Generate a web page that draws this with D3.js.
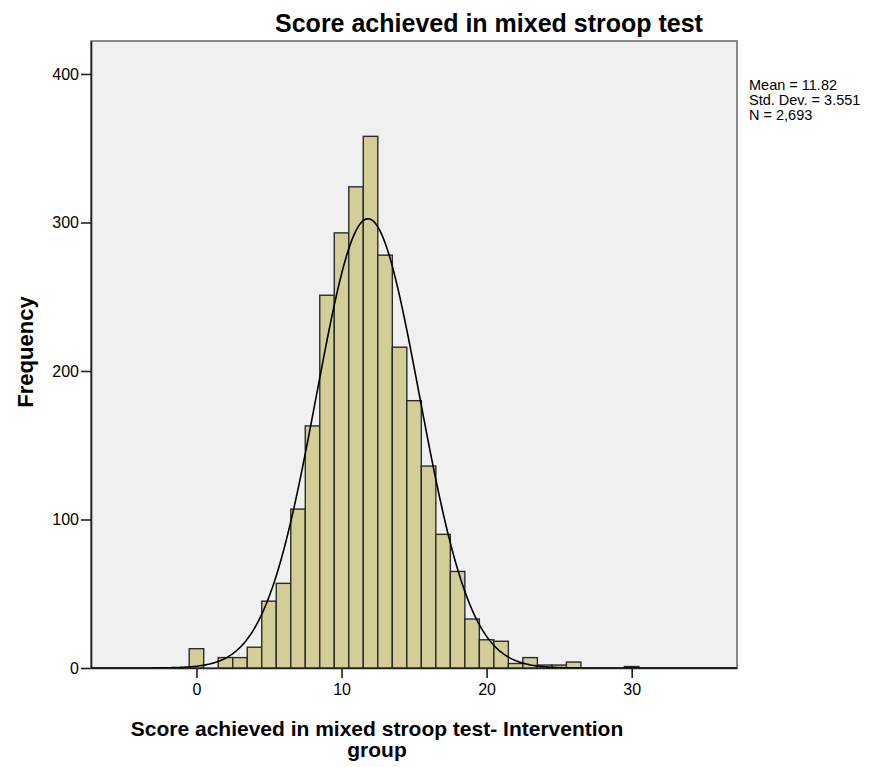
<!DOCTYPE html>
<html>
<head>
<meta charset="utf-8">
<script src="https://cdn.jsdelivr.net/npm/d3@7"></script>
<style>
  body { margin: 0; background: #fff; }
  text { font-family: "Liberation Sans", Arial, sans-serif; fill: #000; }
</style>
</head>
<body>
<svg id="chart" width="882" height="767"></svg>
<script>
// Histogram data (bin width 1, bins centred on whole scores)
var scores = [0, 1, 2, 3, 4, 5, 6, 7, 8, 9, 10, 11, 12, 13, 14, 15, 16, 17, 18, 19, 20,
              21, 22, 23, 24, 25, 26, 27, 28, 29, 30];
var frequency = [13, 0, 7, 7, 14, 45, 57, 107, 163, 251, 293, 324, 358, 278, 216, 180, 136, 90, 65, 33, 19,
                 18, 3, 7, 2, 2, 4, 0, 0, 0, 1];
var xTicks = [0, 10, 20, 30];
var yTicks = [0, 100, 200, 300, 400];
var statLines = ["Mean = 11.82", "Std. Dev. = 3.551", "N = 2,693"];
var mean = 11.82;
var sd = 3.551;
var n = 2693;

// Layout (plot frame)
var plotLeft = 91, plotRight = 737, plotTop = 41, plotBottom = 668;

var svg = d3.select('#chart');

var x = d3.scaleLinear().domain([-7.27, 37.26]).range([plotLeft, plotRight]);
var y = d3.scaleLinear().domain([0, 422.2]).range([plotBottom, plotTop]);

// Plot background
svg.append('rect')
   .attr('x', plotLeft).attr('y', plotTop)
   .attr('width', plotRight - plotLeft).attr('height', plotBottom - plotTop)
   .attr('fill', '#f0f0f0')
   .attr('stroke', '#666')
   .attr('stroke-width', 1.5);

// Bars
var bins = scores.map(function(s, i) { return [s, frequency[i]]; })
                 .filter(function(d) { return d[1] > 0; });

svg.selectAll('rect.bar')
   .data(bins)
   .enter()
   .append('rect')
   .attr('class', 'bar')
   .attr('x', (d) => x(d[0] - 0.5))
   .attr('y', (d) => y(d[1]))
   .attr('width', (d) => x(d[0] + 0.5) - x(d[0] - 0.5))
   .attr('height', (d) => y(0) - y(d[1]))
   .attr('fill', '#d3ce97')
   .attr('stroke', '#2b2b2b')
   .attr('stroke-width', 1.4);

// Fitted normal curve
var curveX = d3.range(-7.27, 37.26, 0.1);
var line = d3.line()
   .x((d) => x(d))
   .y((d) => y(n * Math.exp(-0.5 * Math.pow((d - mean) / sd, 2)) / (sd * Math.sqrt(2 * Math.PI))));

svg.append('path')
   .datum(curveX)
   .attr('d', line)
   .attr('fill', 'none')
   .attr('stroke', '#000')
   .attr('stroke-width', 1.6);

// Axes
var xAxis = d3.axisBottom(x).tickValues(xTicks).tickSize(10).tickSizeOuter(0).tickPadding(6);
var yAxis = d3.axisLeft(y).tickValues(yTicks).tickSize(10).tickSizeOuter(0).tickPadding(2);

var gx = svg.append('g')
   .attr('transform', 'translate(0,' + plotBottom + ')')
   .call(xAxis);
var gy = svg.append('g')
   .attr('transform', 'translate(' + plotLeft + ',0)')
   .call(yAxis);

[gx, gy].forEach(function(g) {
  g.select('.domain').attr('stroke', '#222').attr('stroke-width', 1.6);
  g.selectAll('.tick line').attr('stroke', '#222').attr('stroke-width', 1.6);
  g.selectAll('.tick text')
   .style('font-family', '"Liberation Sans", Arial, sans-serif')
   .style('font-size', '16px')
   .attr('fill', '#000');
});

// Title
svg.append('text')
   .attr('x', 489).attr('y', 32)
   .attr('text-anchor', 'middle')
   .style('font-size', '25px')
   .style('font-weight', 'bold')
   .text('Score achieved in mixed stroop test');

// X axis label
svg.append('text')
   .attr('x', 377).attr('y', 736)
   .attr('text-anchor', 'middle')
   .style('font-size', '21px')
   .style('font-weight', 'bold')
   .text('Score achieved in mixed stroop test- Intervention');
svg.append('text')
   .attr('x', 377).attr('y', 757)
   .attr('text-anchor', 'middle')
   .style('font-size', '21px')
   .style('font-weight', 'bold')
   .text('group');

// Y axis label
svg.append('text')
   .attr('transform', 'translate(33,352) rotate(-90)')
   .attr('text-anchor', 'middle')
   .style('font-size', '22px')
   .style('font-weight', 'bold')
   .text('Frequency');

// Stats box
svg.selectAll('text.stat')
   .data(statLines)
   .enter()
   .append('text')
   .attr('class', 'stat')
   .attr('x', 749)
   .attr('y', (d, i) => 90 + i * 15)
   .style('font-size', '14.5px')
   .text((d) => d);
</script>
</body>
</html>
